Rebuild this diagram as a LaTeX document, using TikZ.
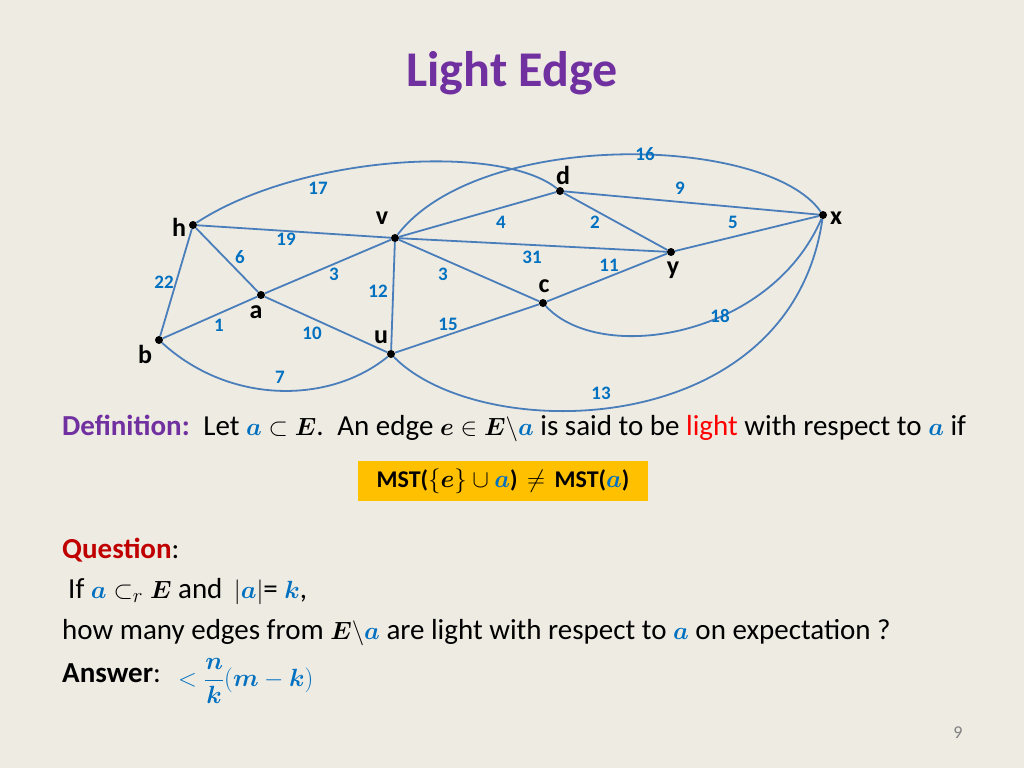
\documentclass[tikz,border=0pt]{standalone}
\usepackage{amsmath,bm}
\usepackage{fontspec}
\setmainfont{Carlito}
\begin{document}
\begin{tikzpicture}[x=1pt,y=-1pt,
  edge/.style={draw=edgec,line width=1.8pt},
  vtx/.style={circle,fill=black,inner sep=0pt,minimum size=8pt},
  vlab/.style={font=\fontsize{26}{28}\selectfont\bfseries},
  wlab/.style={font=\fontsize{19}{20}\selectfont\bfseries,text=labc},
  txt/.style={anchor=west,font=\fontsize{29}{32}\selectfont,inner sep=0pt}]
\definecolor{bgc}{HTML}{EEEBE3}
\definecolor{edgec}{HTML}{4A7EBB}
\definecolor{labc}{HTML}{0070C0}
\definecolor{titc}{HTML}{7030A0}
\definecolor{redc}{HTML}{C00000}
\definecolor{boxc}{HTML}{FFC000}
\fill[bgc] (0,0) rectangle (1024,768);
\useasboundingbox (0,0) rectangle (1024,768);
\node[font=\fontsize{50}{52}\selectfont\bfseries,text=titc] (title) at (512,73) {Light Edge};
% vertices
\node[vtx] (h) at (193,225) {};
\node[vtx] (v) at (395,238) {};
\node[vtx] (d) at (560,191) {};
\node[vtx] (x) at (823,215) {};
\node[vtx] (y) at (671,252) {};
\node[vtx] (c) at (543,303) {};
\node[vtx] (a) at (261,295) {};
\node[vtx] (b) at (159,340) {};
\node[vtx] (u) at (391,354) {};
\node[vlab] (lh) at (179,227) {h};
\node[vlab] (lv) at (382,218) {v};
\node[vlab] (ld) at (563,175) {d};
\node[vlab] (lx) at (836,218) {x};
\node[vlab] (ly) at (673,270) {y};
\node[vlab] (lc) at (544,286) {c};
\node[vlab] (la) at (256,312) {a};
\node[vlab] (lb) at (145,354) {b};
\node[vlab] (lu) at (381,337) {u};
% edges
\draw[edge] (h) .. controls (300,155) and (500,143) .. (d);
\draw[edge] (v) .. controls (480,128) and (767,135) .. (x);
\draw[edge] (c) .. controls (600,365) and (770,338) .. (x);
\draw[edge] (u) .. controls (480,445) and (790,443) .. (x);
\draw[edge] (b) .. controls (230,405) and (330,404) .. (u);
\draw[edge] (d) -- (x);
\draw[edge] (v) -- (d);
\draw[edge] (d) -- (y);
\draw[edge] (y) -- (x);
\draw[edge] (v) -- (y);
\draw[edge] (v) -- (c);
\draw[edge] (c) -- (y);
\draw[edge] (u) -- (c);
\draw[edge] (v) -- (u);
\draw[edge] (a) -- (v);
\draw[edge] (h) -- (a);
\draw[edge] (h) -- (v);
\draw[edge] (h) -- (b);
\draw[edge] (b) -- (a);
\draw[edge] (a) -- (u);
% weights
\node[wlab] (w17) at (318,188) {17};
\node[wlab] (w16) at (645,154) {16};
\node[wlab] (w9) at (680,188) {9};
\node[wlab] (w4) at (501,222) {4};
\node[wlab] (w2) at (595,222) {2};
\node[wlab] (w5) at (733,222) {5};
\node[wlab] (w19) at (286,239) {19};
\node[wlab] (w31) at (532,257) {31};
\node[wlab] (w11) at (609,265) {11};
\node[wlab] (w6) at (240,257) {6};
\node[wlab] (w3a) at (334,274) {3};
\node[wlab] (w3b) at (443,274) {3};
\node[wlab] (w22) at (164,282) {22};
\node[wlab] (w12) at (378,291) {12};
\node[wlab] (w18) at (720,316) {18};
\node[wlab] (w1) at (219,325) {1};
\node[wlab] (w15) at (448,324) {15};
\node[wlab] (w10) at (312,333) {10};
\node[wlab] (w7) at (280,377) {7};
\node[wlab] (w13) at (601,393) {13};
% text
\node[txt] (def) at (62,428) {\textcolor{titc}{\textbf{Definition:}}\, Let $\bm{\textcolor{labc}{a}}\subset\bm{E}$.\, An edge $\bm{e}\in\bm{E}\backslash\bm{\textcolor{labc}{a}}$ is said to be \textcolor{red}{light} with respect to $\bm{\textcolor{labc}{a}}$ if};
\node[fill=boxc,minimum width=290pt,minimum height=40pt,font=\fontsize{24}{26}\selectfont] (box) at (503,481) {\textbf{MST(}$\{\bm{e}\}\cup\bm{\textcolor{labc}{a}}$\textbf{)} $\,\neq\,$ \textbf{MST(}$\bm{\textcolor{labc}{a}}$\textbf{)}};
\node[txt] (q) at (62,550) {\textcolor{redc}{\textbf{Question}}:};
\node[txt] (q1) at (68,592) {If $\bm{\textcolor{labc}{a}}\subset_r \bm{E}$ and\, $|\bm{\textcolor{labc}{a}}|$= $\bm{\textcolor{labc}{k}}$,};
\node[txt] (q2) at (62,633) {how many edges from $\bm{E}\backslash\bm{\textcolor{labc}{a}}$ are light with respect to $\bm{\textcolor{labc}{a}}$ on expectation ?};
\node[txt] (ans) at (62,673) {\textbf{Answer}:};
\node[txt,text=labc] (frac) at (178,681) {$<\dfrac{\bm{n}}{\bm{k}}(\bm{m}-\bm{k})$};
\node[font=\fontsize{18}{20}\selectfont,text=gray] (pg) at (958,733) {9};
\end{tikzpicture}
\end{document}
